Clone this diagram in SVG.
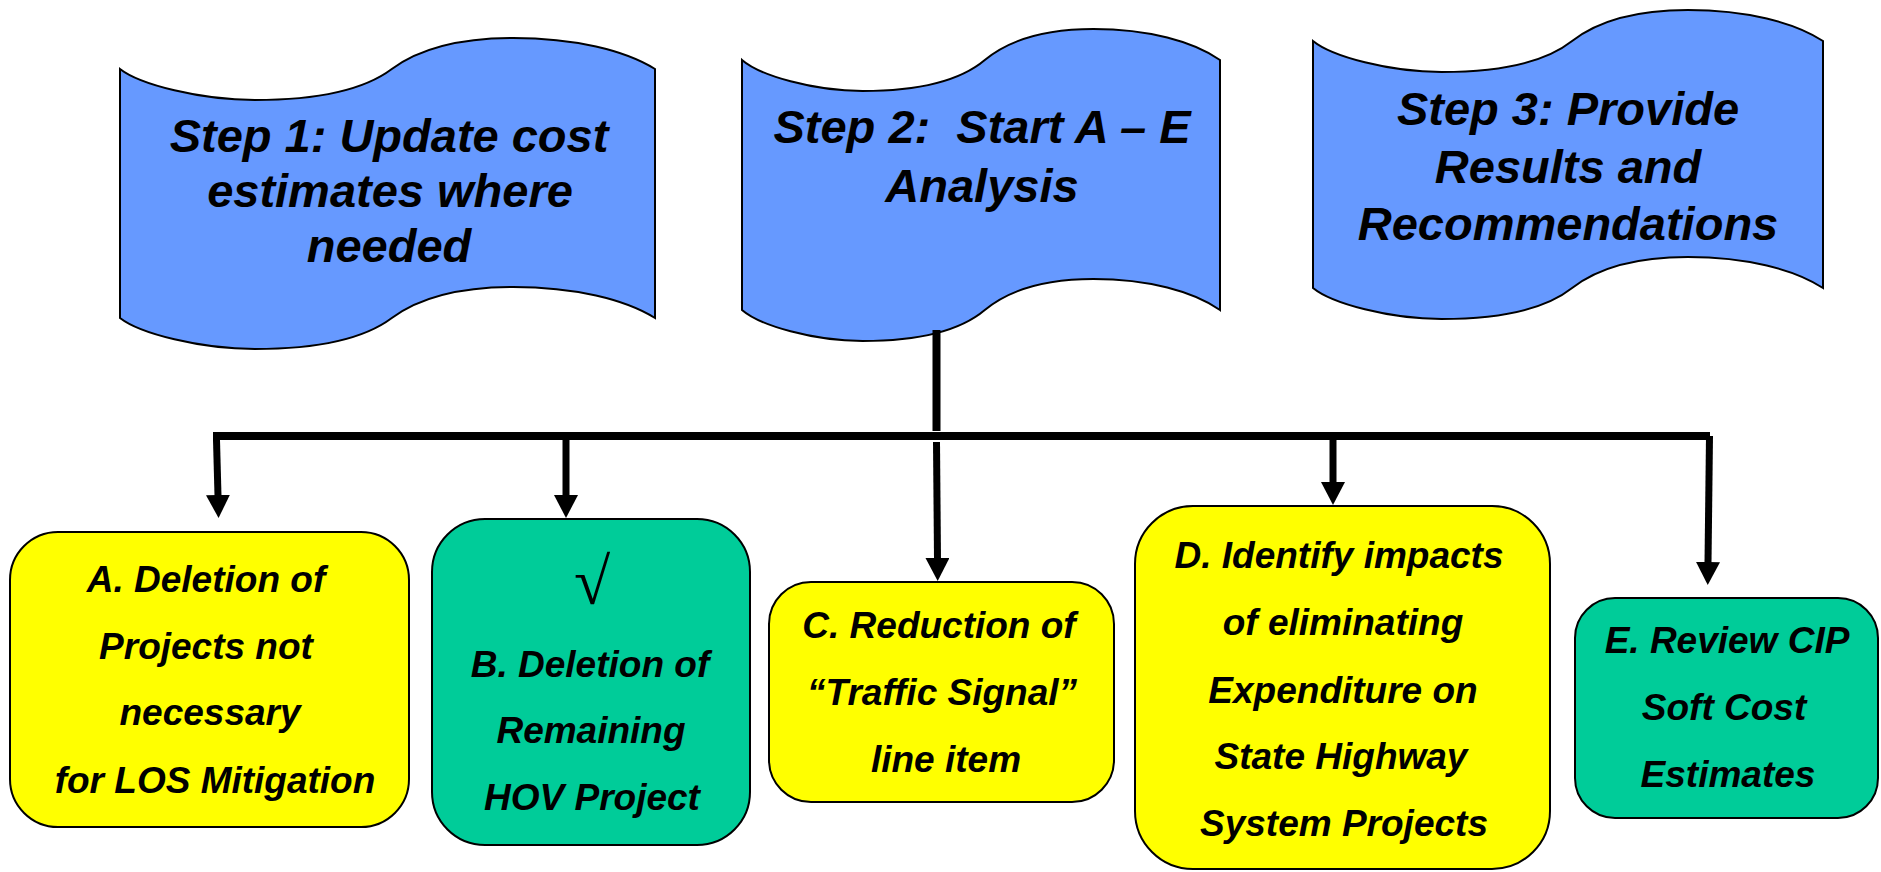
<svg xmlns="http://www.w3.org/2000/svg" width="1881" height="872" viewBox="0 0 1881 872">
  <style>
    .banner { fill: #6699FF; stroke: #000; stroke-width: 2; }
    .box { stroke: #000; stroke-width: 2; }
    .yellow { fill: #FFFF00; }
    .green { fill: #00CC99; }
    .head { font-family: "Liberation Sans", Arial, sans-serif; font-weight: bold; font-style: italic; font-size: 47px; fill: #000; text-anchor: middle; white-space: pre; }
    .label { font-family: "Liberation Sans", Arial, sans-serif; font-weight: bold; font-style: italic; font-size: 37px; fill: #000; text-anchor: middle; white-space: pre; }
    .check { font-family: "Liberation Serif", "Times New Roman", serif; font-size: 66px; fill: #000; text-anchor: middle; }
    .wire { stroke: #000; fill: none; stroke-linecap: butt; }
  </style>
  <defs>
    <marker id="arrow" viewBox="0 0 23 24" refX="1" refY="12" markerWidth="23" markerHeight="24" markerUnits="userSpaceOnUse" orient="auto">
      <path d="M0,0 L23,12 L0,24 Z" fill="#000"/>
    </marker>
  </defs>

  <!-- Step banners -->
  <g id="step1">
    <path class="banner" transform="translate(120,69)" d="M0,0 C19.8,15.5 80.3,31 134.8,31 C200.1,31 245,20.2 271.8,0 C294.8,-17 331.7,-31 393.2,-31 C454.8,-31 505,-18.6 535,0 L535,249 C505,230.4 454.8,218 393.2,218 C331.7,218 294.8,232 271.8,249 C245,269.2 200.1,280 134.8,280 C80.3,280 19.8,264.5 0,249 Z"/>
    <text class="head" x="389" y="152">Step 1: Update cost</text>
    <text class="head" x="390" y="207">estimates where</text>
    <text class="head" x="389" y="262">needed</text>
  </g>

  <g id="step2">
    <path class="banner" transform="translate(742,60)" d="M0,0 C17.7,15.5 71.7,31 120.5,31 C178.8,31 218.9,20.2 242.8,0 C263.4,-17 296.4,-31 351.3,-31 C406.3,-31 451.2,-18.6 478,0 L478,250 C451.2,231.4 406.3,219 351.3,219 C296.4,219 263.4,233 242.8,250 C218.9,270.2 178.8,281 120.5,281 C71.7,281 17.7,265.5 0,250 Z"/>
    <text class="head" x="982" y="143">Step 2:  Start A – E</text>
    <text class="head" x="982" y="202">Analysis</text>
  </g>

  <g id="step3">
    <path class="banner" transform="translate(1313,41)" d="M0,0 C18.9,15.5 76.5,31 128.5,31 C190.7,31 233.6,20.2 259.1,0 C281,-17 316.2,-31 374.9,-31 C433.5,-31 481.4,-18.6 510,0 L510,247 C481.4,228.4 433.5,216 374.9,216 C316.2,216 281,230 259.1,247 C233.6,267.2 190.7,278 128.5,278 C76.5,278 18.9,262.5 0,247 Z"/>
    <text class="head" x="1568" y="125">Step 3: Provide</text>
    <text class="head" x="1568" y="183">Results and</text>
    <text class="head" x="1568" y="240">Recommendations</text>
  </g>

  <!-- Connectors -->
  <g id="connectors">
    <line class="wire" x1="936.5" y1="330" x2="936.5" y2="431" stroke-width="8"/>
    <line class="wire" x1="213" y1="436" x2="1710" y2="436" stroke-width="8"/>
    <line class="wire" x1="216.5" y1="440" x2="218" y2="496" stroke-width="7" marker-end="url(#arrow)"/>
    <line class="wire" x1="566" y1="440" x2="566" y2="496" stroke-width="7" marker-end="url(#arrow)"/>
    <line class="wire" x1="936.5" y1="442" x2="937.5" y2="559" stroke-width="7" marker-end="url(#arrow)"/>
    <line class="wire" x1="1333" y1="440" x2="1333" y2="483" stroke-width="7" marker-end="url(#arrow)"/>
    <line class="wire" x1="1709.5" y1="436" x2="1708" y2="563" stroke-width="7" marker-end="url(#arrow)"/>
  </g>

  <!-- Analysis items -->
  <g id="itemA">
    <rect class="box yellow" x="10" y="532" width="399" height="295" rx="48" ry="48"/>
    <text class="label" x="206" y="592">A. Deletion of</text>
    <text class="label" x="206" y="659">Projects not</text>
    <text class="label" x="210" y="725">necessary</text>
    <text class="label" x="215" y="793">for LOS Mitigation</text>
  </g>

  <g id="itemB">
    <rect class="box green" x="432" y="519" width="318" height="326" rx="53" ry="53"/>
    <text class="check" x="592" y="604">√</text>
    <text class="label" x="590" y="677">B. Deletion of</text>
    <text class="label" x="591" y="743">Remaining</text>
    <text class="label" x="592" y="810">HOV Project</text>
  </g>

  <g id="itemC">
    <rect class="box yellow" x="769" y="582" width="345" height="220" rx="42" ry="42"/>
    <text class="label" x="939" y="638">C. Reduction of</text>
    <text class="label" x="942" y="705">“Traffic Signal”</text>
    <text class="label" x="946" y="772">line item</text>
  </g>

  <g id="itemD">
    <rect class="box yellow" x="1135" y="506" width="415" height="363" rx="58" ry="58"/>
    <text class="label" x="1339" y="568">D. Identify impacts</text>
    <text class="label" x="1343" y="635">of eliminating</text>
    <text class="label" x="1343" y="703">Expenditure on</text>
    <text class="label" x="1341" y="769">State Highway</text>
    <text class="label" x="1344" y="836">System Projects</text>
  </g>

  <g id="itemE">
    <rect class="box green" x="1575" y="598" width="303" height="220" rx="40" ry="40"/>
    <text class="label" x="1727" y="653">E. Review CIP</text>
    <text class="label" x="1724" y="720">Soft Cost</text>
    <text class="label" x="1728" y="787">Estimates</text>
  </g>
</svg>
